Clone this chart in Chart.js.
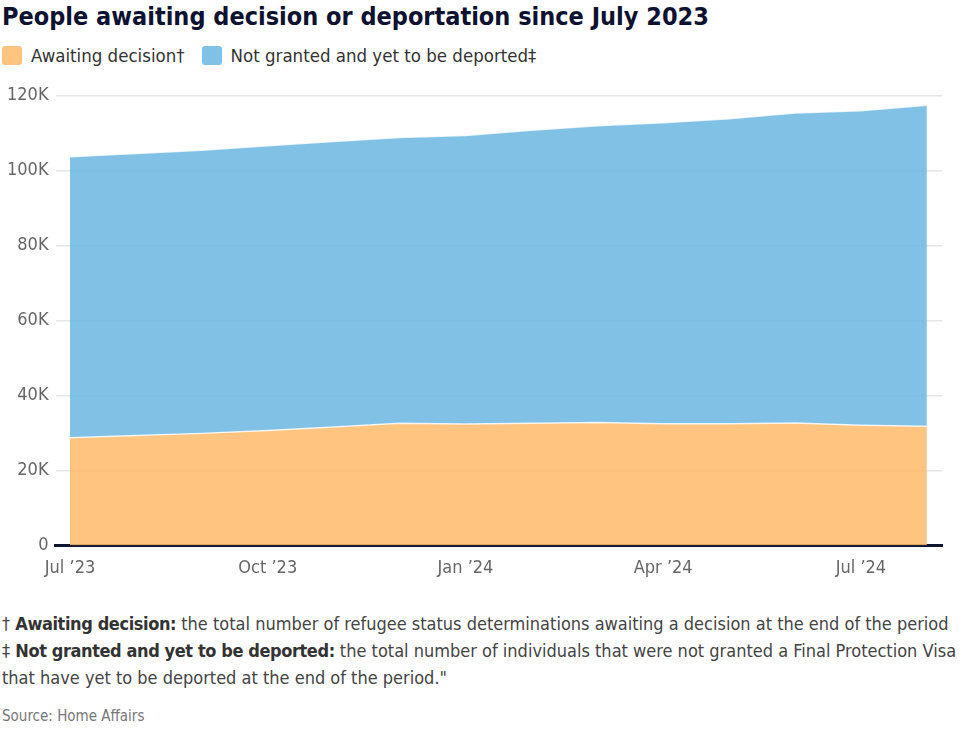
<!DOCTYPE html>
<html>
<head>
<meta charset="utf-8">
<script src="https://cdn.jsdelivr.net/npm/chart.js@4"></script>
<style>
  body { margin: 0; background: #fff; font-family: "DejaVu Sans Condensed", "DejaVu Sans", sans-serif; }
  #title { position: absolute; left: 2px; top: 2px; font-size: 25px; font-weight: bold; color: #0d1230; white-space: nowrap; }
  #legend { position: absolute; left: 2px; top: 45px; font-size: 18.5px; color: #333; display: flex; align-items: center; white-space: nowrap; }
  #legend .item { display: flex; align-items: center; margin-right: 17px; }
  #legend .box { width: 20px; height: 19px; border-radius: 3px; margin-right: 9px; }
  #wrap { position: absolute; left: 0; top: 78px; width: 961px; height: 505px; }
  #notes { position: absolute; left: 2px; top: 610px; font-size: 18px; line-height: 27px; color: #444; white-space: nowrap; }
  #notes b { color: #333; letter-spacing: -0.4px; }
  #source { position: absolute; left: 2px; top: 707px; font-size: 15px; color: #777; }
</style>
</head>
<body>
<div id="title">People awaiting decision or deportation since July 2023</div>
<div id="legend"></div>
<div id="wrap"><canvas id="chart"></canvas></div>
<div id="notes">
  <div>† <b>Awaiting decision:</b> the total number of refugee status determinations awaiting a decision at the end of the period</div>
  <div>‡ <b>Not granted and yet to be deported:</b> the total number of individuals that were not granted a Final Protection Visa</div>
  <div>that have yet to be deported at the end of the period."</div>
</div>
<div id="source">Source: Home Affairs</div>

<script>
// months Jul 2023 .. Aug 2024
let months = ["Jul ’23","Aug ’23","Sep ’23","Oct ’23","Nov ’23","Dec ’23","Jan ’24","Feb ’24","Mar ’24","Apr ’24","May ’24","Jun ’24","Jul ’24","Aug ’24"];
let awaiting = [28700, 29300, 29900, 30700, 31600, 32600, 32400, 32600, 32800, 32500, 32500, 32700, 32100, 31800];
let notGranted = [75000, 75300, 75600, 76000, 76200, 76300, 77000, 78200, 79200, 80300, 81400, 82700, 83900, 85700];
let seriesNames = ["Awaiting decision†", "Not granted and yet to be deported‡"];
let xTicks = [0, 3, 6, 9, 12];
let yTicks = [0, 20000, 40000, 60000, 80000, 100000, 120000];

let colors = ["rgba(255,186,106,0.85)", "rgba(106,182,224,0.85)"];
let font = "'DejaVu Sans Condensed', 'DejaVu Sans', sans-serif";

legend.innerHTML = seriesNames.map((n, i) =>
    `<div class="item"><div class="box" style="background:${colors[i]}"></div>${n}</div>`).join("");

new Chart(document.getElementById("chart"), {
    type: "line",
    data: {
        datasets: [{
            label: seriesNames[0],
            data: awaiting.map((v, i) => ({x: i, y: v})),
            backgroundColor: colors[0],
            borderColor: "rgba(255,255,255,0.8)",
            borderWidth: 1.5,
            pointRadius: 0,
            fill: "origin",
            tension: 0
        }, {
            label: seriesNames[1],
            data: notGranted.map((v, i) => ({x: i, y: v})),
            backgroundColor: colors[1],
            borderColor: "rgba(255,255,255,0.8)",
            borderWidth: 1.5,
            pointRadius: 0,
            fill: "-1",
            tension: 0
        }]
    },
    options: {
        responsive: true,
        maintainAspectRatio: false,
        animation: false,
        layout: { padding: { left: 0, right: 19, top: 0, bottom: 0 } },
        plugins: {
            legend: { display: false },
            tooltip: { enabled: false }
        },
        scales: {
            x: {
                type: "linear",
                min: -0.22,
                max: 13.23,
                afterBuildTicks: axis => { axis.ticks = xTicks.map(v => ({value: v})); },
                ticks: {
                    callback: v => months[v],
                    color: "#666", font: { family: font, size: 18 }, maxRotation: 0, padding: 4
                },
                grid: { display: false },
                border: { color: "#0d1530", width: 3 }
            },
            y: {
                stacked: true,
                min: 0,
                max: 120000,
                afterBuildTicks: axis => { axis.ticks = yTicks.map(v => ({value: v})); },
                ticks: {
                    callback: v => v === 0 ? "0" : (v / 1000) + "K",
                    color: "#666", font: { family: font, size: 18 }, padding: 7
                },
                grid: { color: "#e6e6e6", lineWidth: 1.5, drawTicks: false },
                border: { display: false }
            }
        }
    }
});
</script>
</body>
</html>
